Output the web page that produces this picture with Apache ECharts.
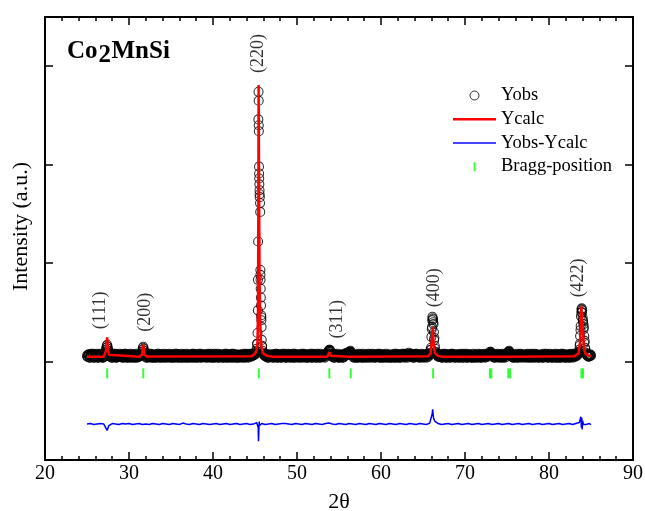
<!DOCTYPE html>
<html><head><meta charset="utf-8">
<script src="https://cdn.jsdelivr.net/npm/echarts@6/dist/echarts.min.js"></script>
<style>html,body{margin:0;padding:0;background:#fff}#chart{width:645px;height:511px}</style>
</head><body><div id="chart"></div>
<script>
// Observed pattern: 2theta grid 25.0 .. 85.0, step 0.1 (intensity, arbitrary units)
const obsStart = 25.0;
const obsStep = 0.1;
const obsGrid = [
106,105,107,104,106,108,105,106,104,107,105,106,108,105,104,106,107,105,106,104,
105,107,110,114,117,113,109,106,105,107,104,106,108,105,106,104,107,105,106,108,
105,106,104,107,105,106,108,104,106,105,107,104,106,105,107,106,104,105,107,106,
104,106,105,107,106,108,112,115,111,107,105,106,104,107,105,106,108,105,104,106,
107,105,106,104,106,108,105,107,104,106,105,107,106,104,105,107,106,105,108,104,
106,105,107,104,106,105,108,106,104,105,107,106,104,106,105,107,104,106,108,105,
104,106,107,105,106,104,108,105,106,107,104,105,106,108,105,104,106,107,105,106,
107,104,105,106,108,105,106,104,107,105,106,104,108,106,105,107,104,106,105,107,
105,106,104,107,106,105,108,104,106,105,107,106,104,105,108,106,105,104,107,106,
104,106,105,107,105,106,104,108,105,106,107,105,104,106,108,106,107,106,108,107,
107,109,113,129,346,286,261,165,122,111,108,107,106,105,107,104,106,105,107,106,
105,107,104,106,105,108,106,104,107,105,106,104,107,105,106,108,105,104,106,107,
106,104,105,107,106,105,104,108,106,105,107,104,106,105,107,106,104,105,108,106,
105,107,106,104,105,106,108,105,104,106,107,105,106,104,108,105,106,107,104,105,
106,105,107,104,106,107,108,110,111,112,110,107,105,106,104,107,105,106,108,105,
104,106,105,107,106,104,105,107,108,109,107,108,109,110,110,108,107,105,106,104,
107,105,106,104,108,105,106,107,104,106,105,107,106,104,105,108,106,105,107,104,
106,105,107,104,106,105,108,106,104,107,105,106,104,107,105,106,108,104,105,106,
107,105,104,106,105,107,106,104,108,105,106,107,104,105,106,108,105,107,104,106,
105,106,107,109,106,105,108,107,104,106,105,107,108,106,105,104,107,106,105,107,
106,104,107,105,106,108,105,107,108,112,125,142,143,130,116,110,108,107,105,106,
107,105,106,104,108,105,106,107,104,106,105,107,106,104,105,108,106,107,105,104,
106,105,107,104,106,108,105,106,104,107,105,106,108,104,105,107,106,105,104,106,
105,107,106,104,105,106,108,105,107,104,106,105,107,106,104,105,106,108,107,108,
110,109,107,105,106,104,107,105,106,108,104,106,105,107,106,104,105,107,106,108,
107,109,110,110,108,106,105,107,104,106,105,107,106,104,105,106,108,105,107,106,
104,106,105,107,106,108,104,105,106,107,105,104,106,108,105,107,106,104,105,106,
107,105,106,104,108,105,106,107,104,105,106,108,105,106,104,107,105,106,108,104,
106,105,107,104,106,105,108,106,105,107,104,106,105,107,106,104,108,105,106,107,
105,107,106,108,107,109,112,126,146,154,145,138,126,114,109,107,106,105,107,106,
106
];

// Observed points in between: 2theta 25.05 .. 84.95, step 0.1
const obsMidStart = 25.05;
const obsMidGrid = [
105,107,106,104,107,105,106,108,104,106,107,105,104,107,106,105,108,106,104,105,
106,108,112,116,115,111,107,105,106,104,107,105,106,108,104,106,105,107,106,105,
107,105,106,104,108,106,105,107,104,106,105,108,106,104,107,105,106,104,108,105,
106,105,107,106,107,110,114,113,109,106,104,107,105,106,108,104,106,107,105,104,
106,104,107,105,108,106,104,105,107,106,104,108,105,106,107,104,106,105,107,106,
104,107,105,106,104,108,106,105,107,104,106,105,108,104,106,107,105,106,104,107,
106,105,104,107,106,105,108,104,107,105,106,104,107,106,105,108,104,106,105,107,
105,106,107,104,105,107,106,108,104,106,105,107,104,105,106,108,105,104,107,106,
107,104,106,105,108,104,106,107,105,104,106,105,108,107,104,106,105,107,106,104,
106,105,107,104,106,107,105,106,104,108,105,107,106,105,107,105,108,106,107,108,
108,111,118,183,340,270,188,145,116,109,107,106,108,105,106,107,104,106,105,107,
106,104,107,105,106,108,104,105,107,106,105,104,108,106,105,107,104,106,105,108,
105,107,106,104,105,108,106,104,107,105,106,107,105,104,106,108,105,107,106,104,
107,105,104,106,107,105,106,104,108,105,107,106,104,107,105,106,104,108,106,105,
105,107,106,105,107,108,109,111,112,111,108,106,105,107,104,106,107,105,106,104,
106,105,107,104,106,105,107,106,108,108,107,109,110,111,109,107,106,104,107,105,
106,104,107,105,106,107,104,105,108,106,104,106,105,107,106,104,107,105,106,108,
105,107,104,106,105,107,106,105,108,104,106,107,105,104,106,105,107,106,104,105,
106,104,107,105,106,104,108,105,106,104,107,105,106,104,107,105,106,108,105,107,
106,104,108,107,105,107,106,105,107,104,106,108,105,107,106,105,106,104,108,106,
105,106,105,107,104,106,107,106,109,114,133,144,138,124,113,109,107,106,105,107,
105,106,104,107,105,106,108,104,106,105,107,104,106,108,105,107,106,104,105,107,
107,105,106,104,107,105,106,104,108,106,105,107,104,106,105,107,106,104,105,108,
104,106,105,107,106,104,105,107,106,104,107,105,106,108,105,106,107,105,108,109,
110,108,106,105,107,104,106,105,107,106,105,107,104,106,108,105,106,104,107,105,
108,110,111,109,107,105,106,104,107,105,106,104,108,105,106,107,104,106,105,107,
106,105,107,104,106,105,107,106,104,108,106,105,107,104,106,105,107,106,104,105,
105,107,104,106,105,106,108,105,106,104,107,105,106,104,107,105,106,104,107,106,
107,104,105,106,108,104,107,105,106,104,107,106,105,104,106,107,105,106,104,108,
106,105,107,106,108,110,116,132,150,152,141,135,121,112,108,106,107,105,106,107
];

// Extra observed points measured between grid steps on the peak flanks
const obsExtra = [
[45.26,118],[45.34,152],[45.37,222],[45.42,374],[45.44,365],[45.46,334],[45.48,298],[45.49,291],
[45.52,280],[45.54,274],[45.57,267],[45.62,252],[45.64,193],[45.66,183],[45.68,174],[45.72,157],
[45.74,147],[45.76,142],[45.78,135],[45.84,115],
[65.97,112],[66.07,135],[66.12,145.5],[66.22,140],[66.32,122],
[83.67,118],[83.77,136],[83.87,153],[83.92,150],[84.02,142],[84.12,133],[84.22,119]
];

// Calculated profile Ycalc (2theta, intensity)
const calcCurve = [
[25.0,105],[27.0,105],[27.2,107],[27.3,112],[27.4,124.5],[27.5,112],[27.6,107],[27.8,105.5],
[31.3,105],[31.55,107],[31.7,117],[31.85,107],[32.1,105.2],
[44.6,105.5],[45.0,108],[45.2,112],[45.3,120],[45.36,150],[45.4,260],[45.43,381],[45.46,320],
[45.5,250],[45.55,180],[45.6,145],[45.7,122],[45.8,113],[46.0,108],[46.4,106],[47.0,105],
[53.6,105],[53.75,106],[53.87,109.5],[54.0,106],[54.2,105],
[56.2,105],[56.4,106.5],[56.6,105],
[65.6,105.5],[65.9,108],[66.05,120],[66.15,135],[66.25,120],[66.4,109],[66.7,106],[67.2,105],
[72.8,105],[73.0,106.2],[73.2,105],[75.1,105],[75.3,106.2],[75.5,105],
[83.0,105.5],[83.5,108],[83.7,120],[83.85,156],[83.95,140],[84.05,130],[84.2,112],[84.4,107],[85.0,105.5]
];

// Difference Yobs-Ycalc (drawn with offset): 2theta grid 25.0 .. 85.0, step 0.2
const diffStart = 25.0;
const diffStep = 0.2;
const diffGrid = [
36.5,36,37,36.5,36,37,36.5,35.5,37,36,
36.5,35,30,35,36.5,37,36,36.5,37,36,
36.5,37,36,36.5,35.5,37,36.5,36,37,36.5,
36,37,36.5,36,35.5,36.5,37,36,36.5,37,
36,36.5,37,36,36.5,37,35.5,36.5,37,36,
36.5,37,36,36.5,37,36,36.5,37.5,36,36.5,
37,36,36.5,37,36,36.5,37,36,36.5,37,
36,36.5,37,36,37.5,36.5,36,37,36.5,36,
37,36.5,36,37,36.5,36,37,36.5,36,37,
36.5,36,37,36.5,36,37,36.5,36,37,36.5,
37,38,25,34,37,36.5,36,37,36.5,36,
37,36.5,36,37,36.5,36,37,36.5,37,36,
36.5,37,36,36.5,37,36,36.5,37,36,36.5,
37,36,36.5,37,36,36.5,37,36,36.5,37,
36,36.5,37,36,37.5,36,36.5,37,36,36.5,
37,36,36.5,37,36,36.5,37,36,36.5,37,
36,36.5,37,36,36.5,37,36,36.5,37,36,
36.5,37,36,36.5,37,36,36.5,37,36,36.5,
37,36,36.5,37,36,36.5,37,36,36.5,37,
36,36.5,37,36,36.5,37,36,36.5,37,36,
36.5,37,36,36.5,37.5,39,47,39.5,37.5,37,
36.5,36,37,36.5,36,37,36.5,36,37,36.5,
36,37,36.5,36,37,36.5,36,37,36.5,36,
37,36.5,36,37,36.5,36,37,36.5,36,37,
36.5,36,37,36.5,36,37,36.5,36,37,36.5,
36,37,36.5,36,37,36.5,36,37,36.5,36,
37,36.5,36,37,36.5,36,37,36.5,36,37,
36.5,36,37,36.5,36,37,36.5,36,37,36.5,
36,37,36.5,36,37,36.5,36,37,36.5,36,
36.5,37,36,38,44,40,37,36,36.5,37,
36
];
const diffExtra = [
[45.3,37],[45.36,40],[45.38,33],[45.42,19],[45.46,31],[45.5,39],[45.54,35],
[66.1,47],[66.15,51.5],[66.25,43],[66.3,41],[66.5,38],
[83.7,40],[83.85,33],[83.9,43],[83.95,31],[84.05,39],[84.1,36]
];

// Bragg reflection positions (2theta) and the level of their tick row
const braggPos = [27.4,31.7,45.45,53.85,56.4,66.2,72.96,73.13,75.15,75.35,83.85,84.05];
const braggLevel = 88;

// Peak indices and where their labels sit (2theta, intensity)
const peakNames = ['(111)','(200)','(220)','(311)','(400)','(422)'];
const peakLabelAt = [[26.55,152],[31.9,150],[45.42,413],[54.76,143],[66.31,175],[83.51,185]];

const seriesNames = ['Yobs','Ycalc','Yobs-Ycalc','Bragg-position'];

const FONT = '"Liberation Serif", "Times New Roman", serif';

function onGrid(arr, start, step) { return arr.map((v, i) => [+(start + i * step).toFixed(2), v]); }
const obsData = onGrid(obsGrid, obsStart, obsStep)
  .concat(onGrid(obsMidGrid, obsMidStart, obsStep))
  .concat(obsExtra);
const diffData = onGrid(diffGrid, diffStart, diffStep).concat(diffExtra).sort((a, b) => a[0] - b[0]);
const braggData = braggPos.map(x => [x, braggLevel]);
const labelData = peakNames.map((n, i) => ({ name: n, value: peakLabelAt[i] }));

const axisLineStyle = { color: '#000', width: 2 };
const tickStyle = { color: '#000', width: 1.5 };

const chart = echarts.init(document.getElementById('chart'), null, { renderer: 'canvas' });
chart.setOption({
  animation: false,
  backgroundColor: '#fff',
  grid: { left: 45, right: 12, top: 17, bottom: 51, containLabel: false, outerBoundsMode: 'none' },
  xAxis: [
    { type: 'value', min: 20, max: 90, interval: 10, position: 'bottom',
      axisLine: { onZero: false, lineStyle: axisLineStyle },
      axisTick: { inside: true, length: 8, lineStyle: tickStyle },
      minorTick: { show: true, splitNumber: 5, length: 4, lineStyle: tickStyle },
      splitLine: { show: false },
      axisLabel: { fontFamily: FONT, fontSize: 20, color: '#000', margin: 4 },
      name: '2θ', nameLocation: 'middle', nameGap: 31,
      nameTextStyle: { fontFamily: FONT, fontSize: 22, color: '#000' } },
    { type: 'value', min: 20, max: 90, interval: 10, position: 'top',
      axisLine: { onZero: false, lineStyle: axisLineStyle },
      axisTick: { inside: true, length: 8, lineStyle: tickStyle },
      minorTick: { show: true, splitNumber: 5, length: 4, lineStyle: tickStyle },
      splitLine: { show: false }, axisLabel: { show: false } }
  ],
  yAxis: [
    { type: 'value', min: 0, max: 450, interval: 100, position: 'left',
      axisLine: { show: true, onZero: false, lineStyle: axisLineStyle },
      axisTick: { show: true, inside: true, length: 8, lineStyle: tickStyle },
      splitLine: { show: false }, axisLabel: { show: false },
      name: 'Intensity (a.u.)', nameLocation: 'middle', nameGap: 13, nameRotate: 90,
      nameTextStyle: { fontFamily: FONT, fontSize: 22, color: '#000', padding: [0, 0, 0, 24] } },
    { type: 'value', min: 0, max: 450, interval: 100, position: 'right',
      axisLine: { show: true, onZero: false, lineStyle: axisLineStyle },
      axisTick: { show: true, inside: true, length: 8, lineStyle: tickStyle },
      splitLine: { show: false }, axisLabel: { show: false } }
  ],
  legend: {
    orient: 'vertical', left: 453, top: 86, padding: 0, itemWidth: 43, itemHeight: 9, itemGap: 4.7,
    selectedMode: false,
    textStyle: { fontFamily: FONT, fontSize: 18.5, color: '#000' },
    data: [
      { name: seriesNames[0], icon: 'circle', itemStyle: { color: 'rgba(0,0,0,0)', borderColor: '#000', borderWidth: 1 } },
      { name: seriesNames[1], icon: 'path://M0,0h86v5h-86z', itemStyle: { color: '#ff0000', borderWidth: 0 } },
      { name: seriesNames[2], icon: 'path://M0,0h86v4h-86z', itemStyle: { color: '#4444ff', borderWidth: 0 } },
      { name: seriesNames[3], icon: 'path://M0,0h2v10h-2z', itemStyle: { color: '#00ff00', borderWidth: 0 } }
    ]
  },
  graphic: [
    { type: 'text', left: 67, top: 39, style: { text: 'Co', font: 'bold 25px "Liberation Serif"', fill: '#000' } },
    { type: 'text', left: 98.5, top: 43, style: { text: '2', font: 'bold 25px "Liberation Serif"', fill: '#000' } },
    { type: 'text', left: 111.5, top: 39, style: { text: 'MnSi', font: 'bold 25px "Liberation Serif"', fill: '#000' } }
  ],
  series: [
    { name: seriesNames[0], type: 'scatter', data: obsData, symbol: 'circle', symbolSize: 9,
      itemStyle: { color: 'rgba(0,0,0,0)', borderColor: '#000', borderWidth: 1.1 }, z: 2, silent: true },
    { name: seriesNames[1], type: 'line', data: calcCurve, symbol: 'none', showSymbol: false,
      lineStyle: { color: '#ff0000', width: 2.5 }, itemStyle: { color: '#ff0000' }, z: 3, silent: true },
    { name: seriesNames[2], type: 'line', data: diffData, symbol: 'none', showSymbol: false,
      lineStyle: { color: '#0000ff', width: 1.5 }, itemStyle: { color: '#0000ff' }, z: 3, silent: true },
    { name: seriesNames[3], type: 'scatter', data: braggData, symbol: 'rect', symbolSize: [2, 10],
      itemStyle: { color: '#00ff00' }, z: 4, silent: true },
    { name: 'peak labels', type: 'scatter', data: labelData, symbolSize: 0, silent: true,
      label: { show: true, position: 'inside', rotate: 90, formatter: '{b}',
        fontFamily: FONT, fontSize: 18, color: '#000' } }
  ]
});
</script>
</body></html>
